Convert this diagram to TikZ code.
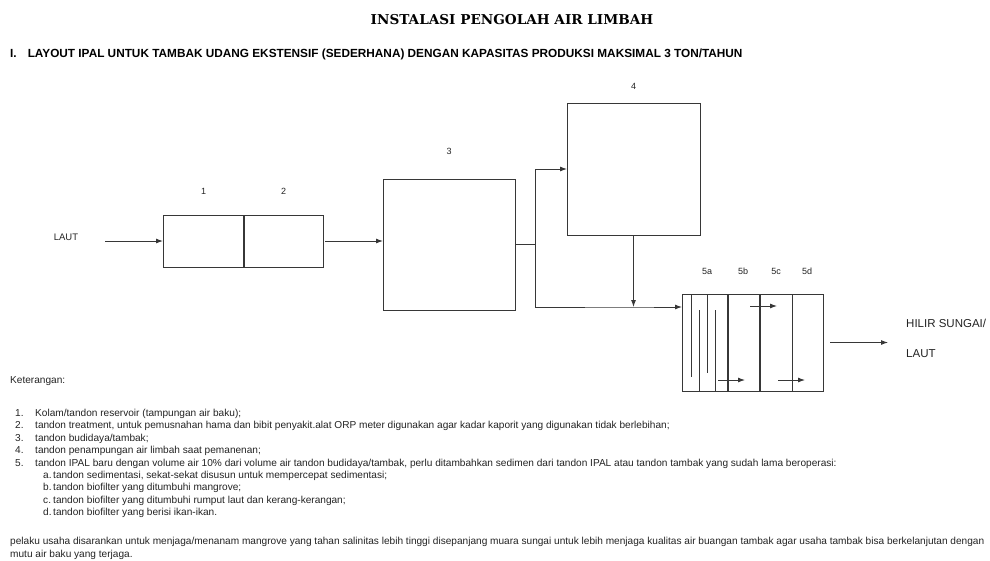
\documentclass[tikz,border=0pt]{standalone}
\usepackage{fontspec}
\setmainfont{Liberation Sans}
\newfontfamily\titlefont{DejaVu Serif}
\usetikzlibrary{arrows.meta, positioning}
\definecolor{linegray}{RGB}{55,55,55}
\definecolor{textgray}{RGB}{35,35,35}

\begin{document}
\begin{tikzpicture}[x=1pt, y=-1pt,
  tank/.style={draw=linegray, line width=0.9pt, rectangle, inner sep=0pt, outer sep=0pt},
  pipe/.style={draw=linegray, line width=0.9pt},
  flow/.style={pipe, -{Latex[length=7pt,width=5pt]}},
  baffle/.style={draw=linegray, line width=0.8pt},
  num/.style={font=\fontsize{9}{10}\selectfont, text=textgray},
  note/.style={font=\fontsize{10.1}{12}\selectfont, anchor=base west, inner sep=0pt, text=textgray}]
  \useasboundingbox (0,0) rectangle (990,560);
  % judul
  \node[font=\titlefont\bfseries\fontsize{13.6}{15}\selectfont] (title) at (512,20)
    {INSTALASI PENGOLAH AIR LIMBAH};
  \node[font=\bfseries\fontsize{11.8}{13}\selectfont, anchor=base west, inner sep=0pt] (head) at (10,57.5)
    {I.\hspace{11pt}LAYOUT IPAL UNTUK TAMBAK UDANG EKSTENSIF (SEDERHANA) DENGAN KAPASITAS PRODUKSI MAKSIMAL 3 TON/TAHUN};

  % tandon
  \node[tank, minimum width=81pt, minimum height=52pt] (box1) at (203.5,241) {};
  \node[tank, minimum width=79pt, minimum height=52pt, right=0pt of box1] (box2) {};
  \node[tank, minimum width=132pt, minimum height=131pt] (box3) at (449,244.5) {};
  \node[tank, minimum width=133pt, minimum height=132pt] (box4) at (633.5,169) {};
  \node[tank, minimum width=141pt, minimum height=97pt] (box5) at (752.5,342.5) {};
  \node[num, above=17pt of box1] (lbl1) {1};
  \node[num, above=17pt of box2] (lbl2) {2};
  \node[num, above=20.5pt of box3] (lbl3) {3};
  \node[num, above=9.5pt of box4] (lbl4) {4};
  \foreach \lbl/\xx in {5a/707, 5b/743, 5c/776, 5d/807}
    \node[num] (lbl\lbl) at (\xx,271) {\lbl};
  \draw[linegray, line width=1.8pt] (box1.north east) -- (box1.south east);

  % sekat tandon 5
  \draw[baffle] (691,294) -- (691,377);
  \draw[baffle] (699,310) -- (699,391);
  \draw[baffle] (707,294) -- (707,373);
  \draw[baffle] (715,310) -- (715,391);
  \draw[linegray, line width=1.2pt] (728,294) -- (728,391);
  \draw[linegray, line width=1.8pt] (760,294) -- (760,391);
  \draw[linegray, line width=1pt] (792,294) -- (792,391);
  \draw[flow] (718,380) -- (745,380);
  \draw[flow] (750,306) -- (777,306);
  \draw[flow] (778,380) -- (805,380);

  % aliran
  \node[font=\fontsize{9.5}{10}\selectfont, text=textgray] (laut) at (66,237) {LAUT};
  \coordinate (src) at (105,241);
  \draw[flow] (src) -- (box1.west);
  \draw[flow] ([xshift=2pt]box2.east) -- (box2.east -| box3.west);
  \coordinate (split) at (535,244.5);
  \coordinate (merge) at (633.5,307);
  \draw[pipe] (box3.east) -- (split);
  \draw[flow] (split) |- (box4.west);
  \draw[flow] (box4.south) -- (merge);
  \draw[flow] (split) |- (merge) -- (merge -| box5.west);
  \node[font=\fontsize{11.5}{13}\selectfont, align=left, anchor=west, inner sep=0pt, text=textgray] (hilir) at (906,338)
    {HILIR SUNGAI/\\[17pt]LAUT};
  \draw[flow] ([xshift=7pt]box5.east) -- ([xshift=-18pt]box5.east -| hilir.west);

  % keterangan
  \node[note] (ket) at (10,383.5) {Keterangan:};
  \foreach \i in {1,...,5}
    \node[note] (num\i) at (15,{404.1+12.4*\i}) {\i.};
  \node[note] (item1) at (35,416.5) {Kolam/tandon reservoir (tampungan air baku);};
  \node[note] (item2) at (35,428.9) {tandon treatment, untuk pemusnahan hama dan bibit penyakit.alat ORP meter digunakan agar kadar kaporit yang digunakan tidak berlebihan;};
  \node[note] (item3) at (35,441.3) {tandon budidaya/tambak;};
  \node[note] (item4) at (35,453.7) {tandon penampungan air limbah saat pemanenan;};
  \node[note] (item5) at (35,466.1) {tandon IPAL baru dengan volume air 10\% dari volume air tandon budidaya/tambak, perlu ditambahkan sedimen dari tandon IPAL atau tandon tambak yang sudah lama beroperasi:};
  \foreach \l [count=\k] in {a,b,c,d}
    \node[note] (sub\l) at (43,{466.1+12.4*\k}) {\l.};
  \node[note] (suba-t) at (53,478.5) {tandon sedimentasi, sekat-sekat disusun untuk mempercepat sedimentasi;};
  \node[note] (subb-t) at (53,490.9) {tandon biofilter yang ditumbuhi mangrove;};
  \node[note] (subc-t) at (53,503.3) {tandon biofilter yang ditumbuhi rumput laut dan kerang-kerangan;};
  \node[note] (subd-t) at (53,515.7) {tandon biofilter yang berisi ikan-ikan.};
  \node[note] (saran1) at (10,544.5) {pelaku usaha disarankan untuk menjaga/menanam mangrove yang tahan salinitas lebih tinggi disepanjang muara sungai untuk lebih menjaga kualitas air buangan tambak agar usaha tambak bisa berkelanjutan dengan};
  \node[note] (saran2) at (10,557) {mutu air baku yang terjaga.};
\end{tikzpicture}
\end{document}
